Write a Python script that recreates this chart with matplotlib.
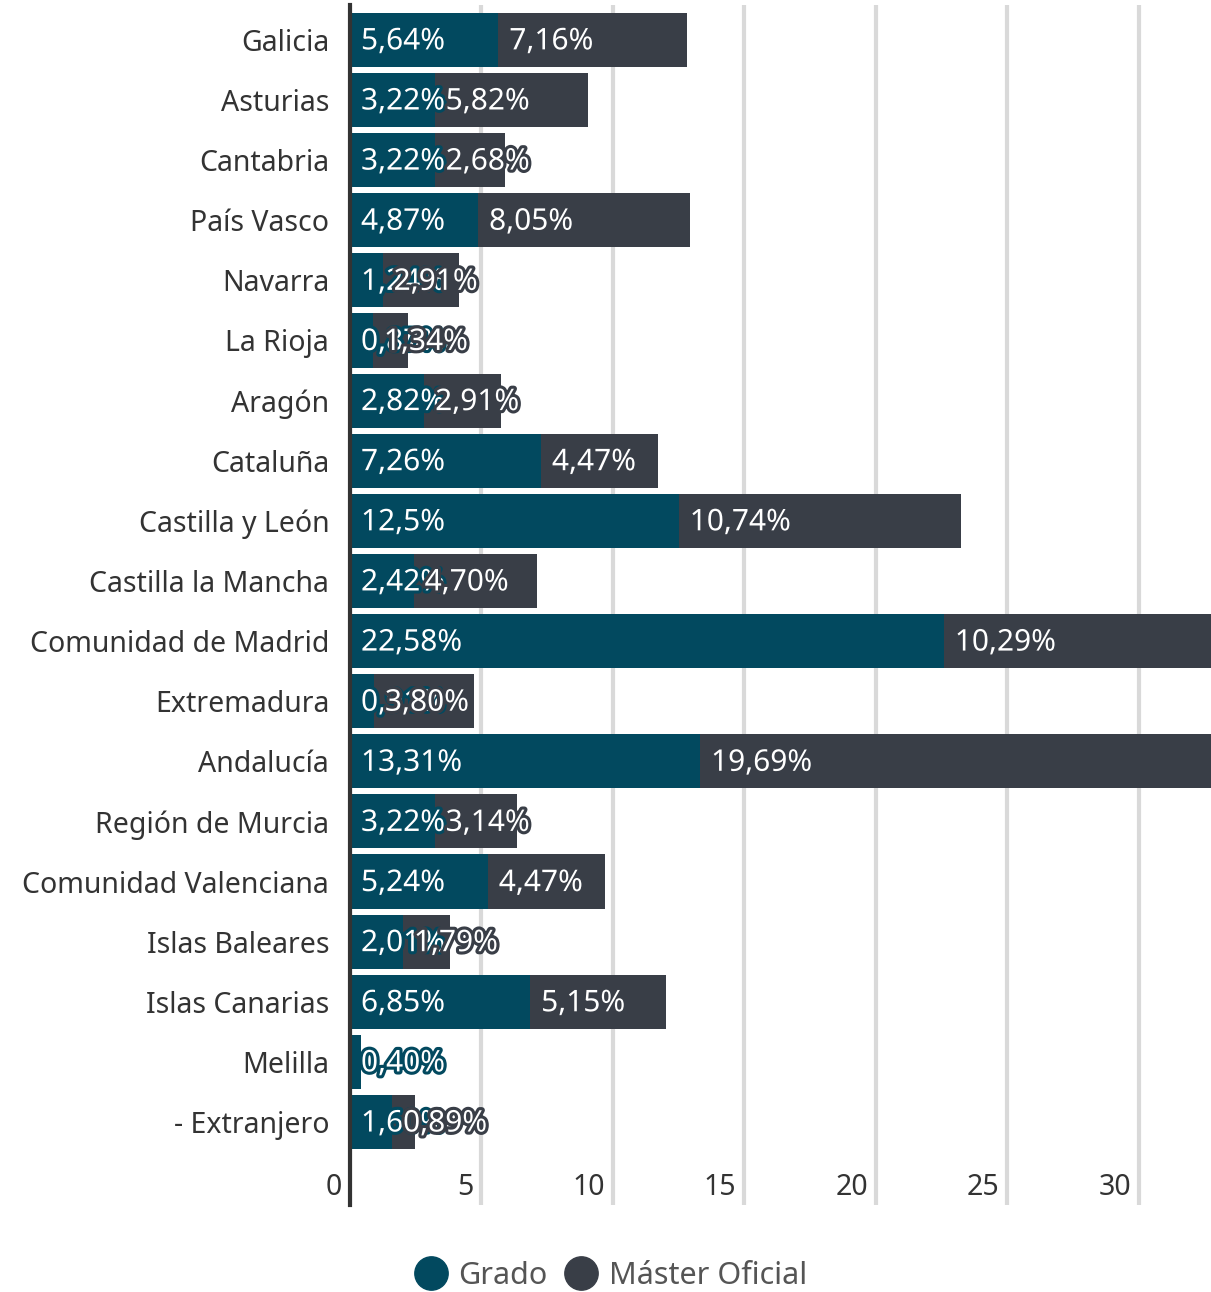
import matplotlib
matplotlib.use('Agg')
import matplotlib.pyplot as plt
import matplotlib.patheffects as pe
from matplotlib.lines import Line2D

plt.rcParams['font.family'] = ['Noto Sans', 'DejaVu Sans']

regiones = ['Galicia', 'Asturias', 'Cantabria', 'País Vasco', 'Navarra',
            'La Rioja', 'Aragón', 'Cataluña', 'Castilla y León',
            'Castilla la Mancha', 'Comunidad de Madrid', 'Extremadura',
            'Andalucía', 'Región de Murcia', 'Comunidad Valenciana',
            'Islas Baleares', 'Islas Canarias', 'Melilla', '- Extranjero']
grado = [5.64, 3.22, 3.22, 4.87, 1.24, 0.87, 2.82, 7.26, 12.5, 2.42,
         22.58, 0.91, 13.31, 3.22, 5.24, 2.01, 6.85, 0.40, 1.60]
master = [7.16, 5.82, 2.68, 8.05, 2.91, 1.34, 2.91, 4.47, 10.74, 4.70,
          10.29, 3.80, 19.69, 3.14, 4.47, 1.79, 5.15, 0.0, 0.89]
ticks = [0, 5, 10, 15, 20, 25, 30]

c_grado = '#02495f'
c_master = '#393e47'
c_text = '#333333'


def fmt(v):
    s = ('%.2f' % v).replace('.', ',')
    if v == 12.5:
        s = '12,5'
    return s + '%'


fig = plt.figure(figsize=(12.11, 12.92), dpi=100)
ax = fig.add_axes([350 / 1211, 87 / 1292, 861 / 1211, 1200 / 1292])

y = list(range(len(regiones)))
ax.barh(y, grado, height=0.9, color=c_grado, zorder=2)
ax.barh(y, master, left=grado, height=0.9, color=c_master, zorder=2)

for i in y:
    g, m = grado[i], master[i]
    ax.annotate(fmt(g), xy=(0, i), xytext=(11, -2), textcoords='offset pixels',
                ha='left', va='center', color='white', fontsize=21.5, zorder=4,
                path_effects=[pe.withStroke(linewidth=4.5, foreground=c_grado)])
    if m > 0:
        ax.annotate(fmt(m), xy=(g, i), xytext=(11, -2), textcoords='offset pixels',
                    ha='left', va='center', color='white', fontsize=21.5, zorder=5,
                    path_effects=[pe.withStroke(linewidth=4.5, foreground=c_master)])

ax.set_xlim(0, 32.74)
ax.set_ylim(19.38, -0.58)
ax.set_yticks(y)
ax.set_yticklabels(regiones, fontsize=20.5, color=c_text)
ax.tick_params(axis='y', length=0, pad=15)
ax.set_xticks(ticks)
ax.set_xticklabels([])
ax.tick_params(axis='x', length=0)
ax.grid(axis='x', color='#d9d9d9', linewidth=3, zorder=0)
ax.set_axisbelow(True)
for t in ticks:
    ax.annotate(str(t), xy=(t, 0), xycoords=('data', 'axes fraction'),
                xytext=(-8, 3), textcoords='offset pixels', ha='right',
                va='bottom', fontsize=20.5, color=c_text)

for s in ['top', 'right', 'bottom']:
    ax.spines[s].set_visible(False)
ax.spines['left'].set_color('#333333')
ax.spines['left'].set_linewidth(3)
ax.spines['left'].set_zorder(6)

handles = [Line2D([], [], marker='o', linestyle='', markersize=24,
                  color=c_grado, label='Grado'),
           Line2D([], [], marker='o', linestyle='', markersize=24,
                  color=c_master, label='Máster Oficial')]
fig.legend(handles=handles, loc='center', bbox_to_anchor=(610 / 1211, 1 - 1276 / 1292),
           ncol=2, frameon=False, fontsize=22, labelcolor='#555555',
           handletextpad=0.3, columnspacing=0.5, handlelength=1.2)

fig.savefig('out.png', dpi=100)
